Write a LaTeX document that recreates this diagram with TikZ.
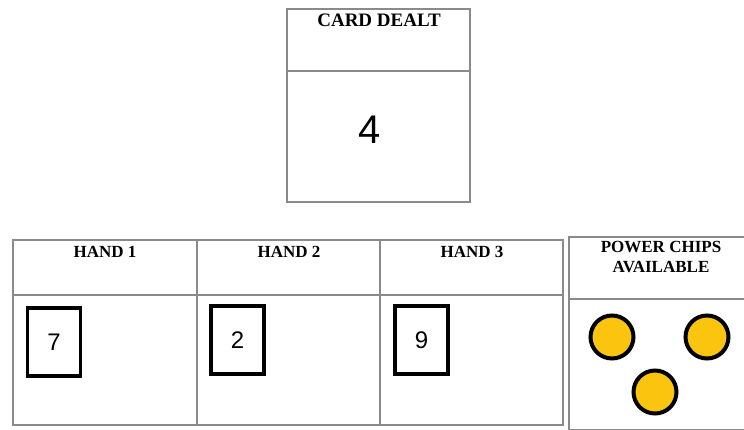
\documentclass[tikz,border=0pt]{standalone}
\usepackage{fontspec}
\setmainfont{Liberation Serif}
\newfontfamily\numfont{Liberation Sans}
\definecolor{chipgold}{HTML}{FBC40E}
\definecolor{rule}{HTML}{8A8A8A}
\begin{document}
\begin{tikzpicture}[x=1pt,y=-1pt,
  frame/.style={draw=rule,line width=1.3pt},
  head/.style={font=\fontsize{17}{17}\selectfont\bfseries,align=center,inner sep=0pt},
  cardbox/.style={draw=black,line width=3.4pt,minimum width=53pt,minimum height=68pt,inner sep=0pt,font=\numfont\fontsize{24}{24}\selectfont},
  chip/.style={circle,draw=black,line width=4pt,fill=chipgold,minimum size=43pt,inner sep=0pt}]
\useasboundingbox (0,0) rectangle (744,429);
% card dealt
\draw[frame] (287,9) rectangle (470,202);
\draw[frame] (287,71) -- (470,71);
\node[head,font=\fontsize{19}{19}\selectfont\bfseries] (dealt) at (379,20) {CARD DEALT};
\node[font=\numfont\fontsize{40}{40}\selectfont,inner sep=0pt] (four) at (370,130) {4};
% hands table
\draw[frame] (13,240) rectangle (563,425);
\draw[frame] (13,295) -- (563,295);
\draw[frame] (197,240) -- (197,425);
\draw[frame] (380,240) -- (380,425);
\node[head] (h1) at (105,252) {HAND 1};
\node[head] (h2) at (289,252) {HAND 2};
\node[head] (h3) at (472,252) {HAND 3};
\node[cardbox] (c1) at (54,342) {7};
\node[cardbox] (c2) at (237.5,340) {2};
\node[cardbox] (c3) at (421.5,340) {9};
% power chips
\draw[frame] (569,237) rectangle (745,430);
\draw[frame] (569,299) -- (745,299);
\node[head,font=\fontsize{17}{20}\selectfont\bfseries] (pc) at (661,257) {POWER CHIPS\\AVAILABLE};
\node[chip] (chip1) at (612,337) {};
\node[chip] (chip2) at (707,337) {};
\node[chip] (chip3) at (655,392) {};
\end{tikzpicture}
\end{document}
